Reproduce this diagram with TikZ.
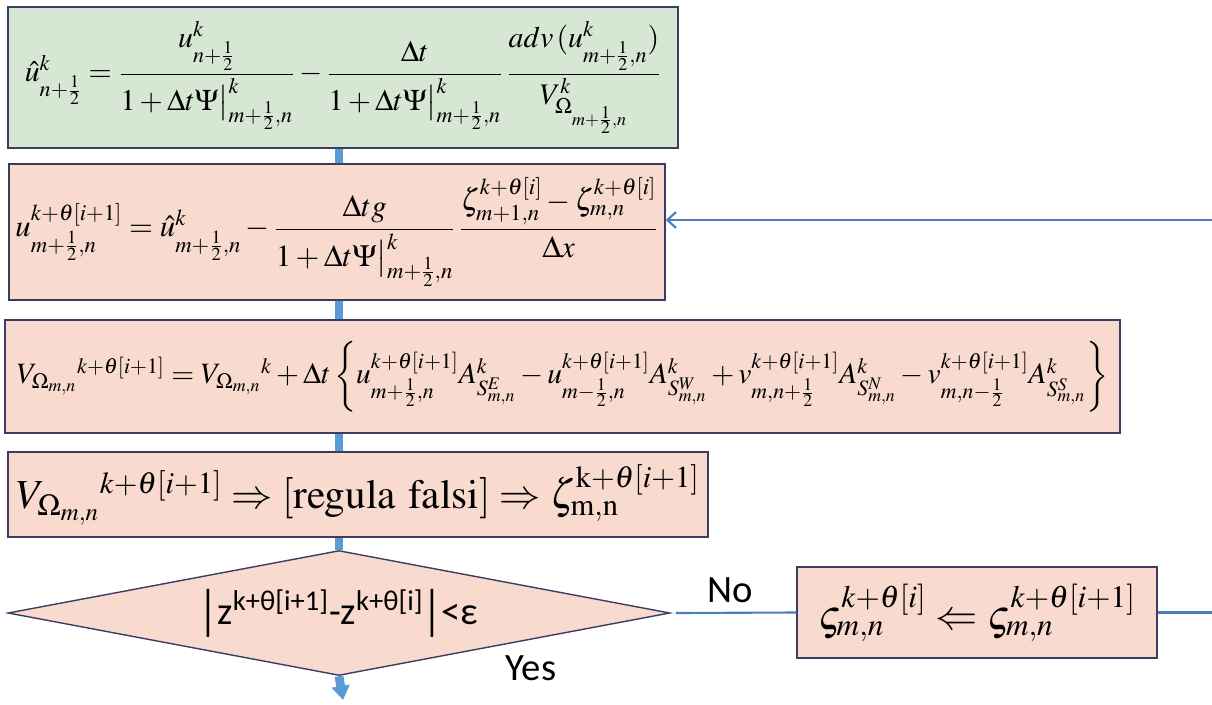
\documentclass[tikz,border=0pt]{standalone}
\usepackage{amsmath}
\usepackage{mathptmx}
\usepackage{fontspec}
\newfontfamily\calib{Carlito}
\usetikzlibrary{arrows.meta,positioning,shapes.geometric,calc}
\definecolor{boxgreen}{RGB}{214,231,211}
\definecolor{boxpeach}{RGB}{248,218,206}
\definecolor{boxline}{RGB}{60,60,100}
\definecolor{flowblue}{RGB}{91,155,213}
\definecolor{backblue}{RGB}{74,126,187}

\begin{document}
\begin{tikzpicture}[x=1cm,y=1cm,
  eqbox/.style={draw=boxline,line width=0.8pt,fill=boxpeach,inner sep=1pt},
  flow/.style={flowblue,line width=5pt},
  back/.style={backblue,line width=1.2pt}]
\useasboundingbox (0,0) rectangle (24.24,-14.08);
% boxes of the inner loop
\node[eqbox,fill=boxgreen,minimum width=13.4cm,minimum height=2.82cm,font=\fontsize{17}{21}\selectfont] (upd) at (6.86,-1.55)
  {$\hat{u}^{k}_{n+\frac{1}{2}}=\dfrac{u^{k}_{n+\frac{1}{2}}}{1+\Delta t\Psi\big|^{k}_{m+\frac{1}{2},n}}-\dfrac{\Delta t}{1+\Delta t\Psi\big|^{k}_{m+\frac{1}{2},n}}\,\dfrac{adv\,(u^{k}_{m+\frac{1}{2},n})}{V^{k}_{\Omega_{m+\frac{1}{2},n}}}$};
\node[eqbox,minimum width=13.12cm,minimum height=2.72cm,font=\fontsize{17.5}{21}\selectfont] (vel) at (6.74,-4.64)
  {$u^{k+\theta[i+1]}_{m+\frac{1}{2},n}=\hat{u}^{k}_{m+\frac{1}{2},n}-\dfrac{\Delta t g}{1+\Delta t\Psi\big|^{k}_{m+\frac{1}{2},n}}\,\dfrac{\zeta^{k+\theta[i]}_{m+1,n}-\zeta^{k+\theta[i]}_{m,n}}{\Delta x}$};
\node[eqbox,minimum width=22.3cm,minimum height=2.26cm,font=\fontsize{16.8}{20}\selectfont] (vol) at (11.25,-7.53)
  {$V_{\Omega_{m,n}}{}^{k+\theta[i+1]}=V_{\Omega_{m,n}}{}^{k}+\Delta t\left\{u^{k+\theta[i+1]}_{m+\frac{1}{2},n}A^{k}_{S^{E}_{m,n}}-u^{k+\theta[i+1]}_{m-\frac{1}{2},n}A^{k}_{S^{W}_{m,n}}+v^{k+\theta[i+1]}_{m,n+\frac{1}{2}}A^{k}_{S^{N}_{m,n}}-v^{k+\theta[i+1]}_{m,n-\frac{1}{2}}A^{k}_{S^{S}_{m,n}}\right\}$};
\node[eqbox,minimum width=14cm,minimum height=1.7cm,font=\fontsize{23.5}{28}\selectfont] (fal) at (7.16,-9.89)
  {$V_{\Omega_{m,n}}{}^{k+\theta[i+1]}\Rightarrow[\mathrm{regula\ falsi}]\Rightarrow\zeta^{\mathrm{k}+\theta[i+1]}_{\mathrm{m,n}}$};
\node[eqbox,shape=diamond,aspect=5.3,inner sep=1pt,minimum width=13.24cm,minimum height=2.5cm,font=\calib\fontsize{22}{26}\selectfont] (chk) at (6.78,-12.26)
  {\raisebox{-2pt}{\scalebox{1}[1.4]{|}}z\textsuperscript{k+θ[i+1]}-z\textsuperscript{k+θ[i]}\raisebox{-2pt}{\scalebox{1}[1.4]{|}}<ε};
\node[eqbox,minimum width=7.2cm,minimum height=1.82cm,font=\fontsize{24}{29}\selectfont] (swp) at (19.54,-12.25)
  {$\varsigma^{k+\theta[i]}_{m,n}\Leftarrow\varsigma^{k+\theta[i+1]}_{m,n}$};
% connectors
\coordinate (out) at (6.86,-14.0);
\coordinate (redge) at (24.24,-12.25);
\coordinate (ledge) at (24.24,-4.4);
\draw[flow] (upd.south -| chk.north) -- (vel.north -| chk.north);
\draw[flow] (vel.south -| chk.north) -- (vol.north -| chk.north);
\draw[flow] (vol.south -| chk.north) -- (fal.north -| chk.north);
\draw[flow] (fal.south -| chk.north) -- (chk.north);
\draw[flow,-{Triangle[length=8pt,width=10pt]}] (chk.south) -- (out);
\draw[back] ([xshift=3pt]chk.east) -- node[above=2pt,black,font=\calib\fontsize{22}{26}\selectfont,pos=0.45] (no) {No} (swp.west);
\draw[back] (swp.east) -- (redge);
\draw[back,-{Straight Barb[length=5pt,width=9pt]}] (ledge) -- (vel.east |- ledge);
\node[font=\calib\fontsize{22}{26}\selectfont] (yes) at (10.62,-13.36) {Yes};
\end{tikzpicture}
\end{document}
